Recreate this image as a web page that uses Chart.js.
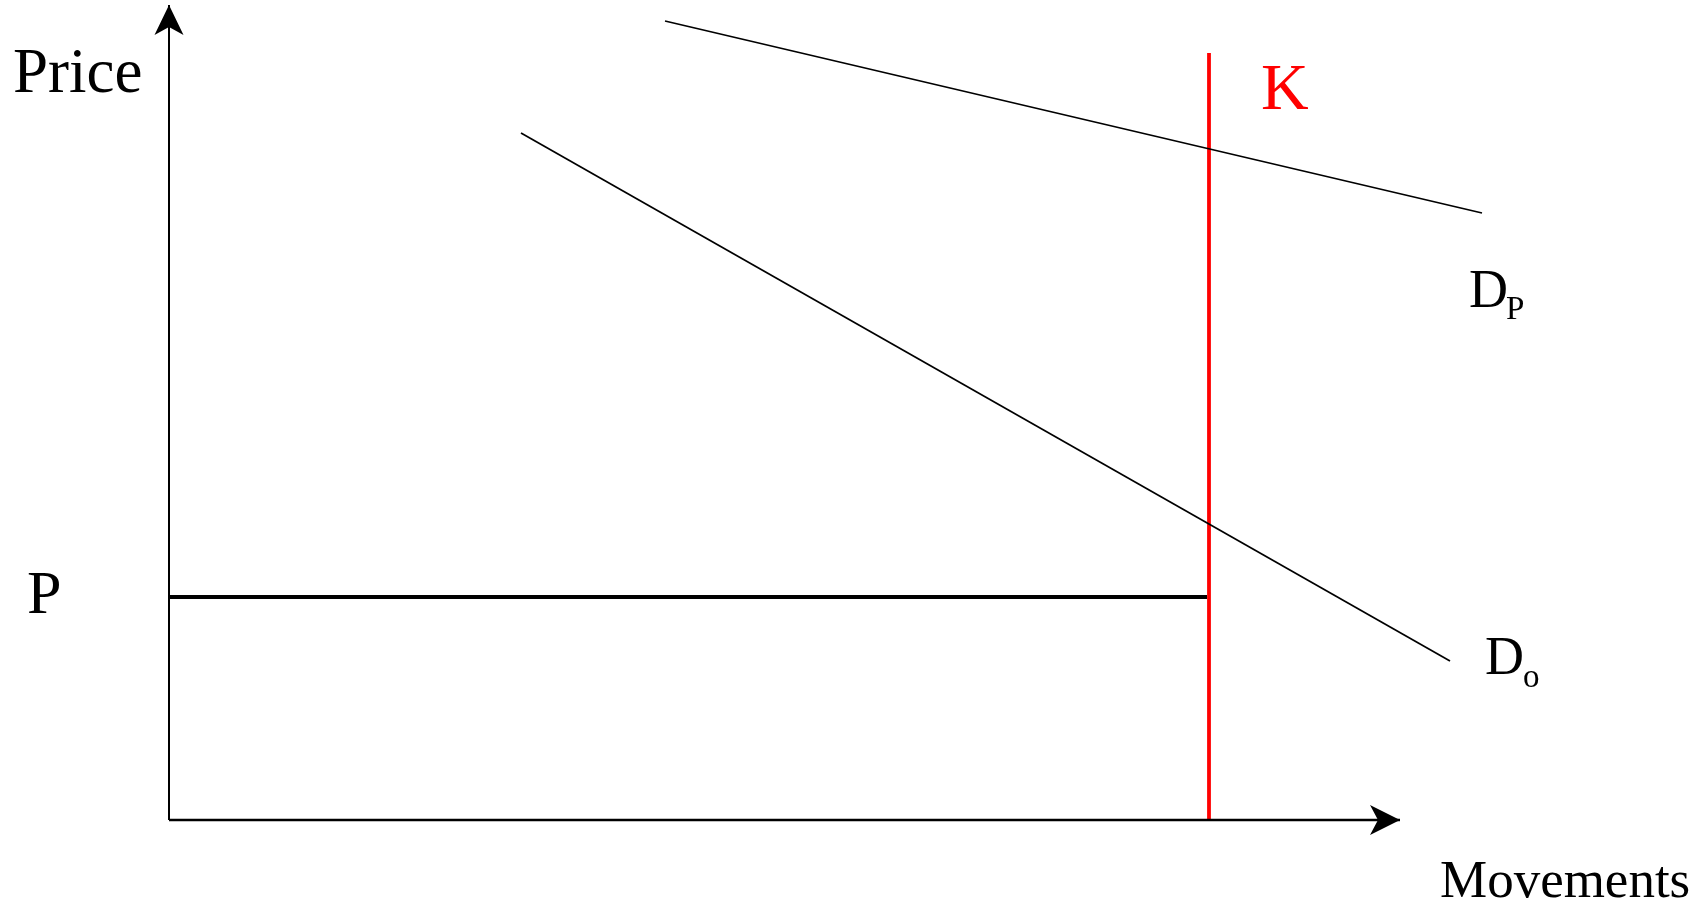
<!DOCTYPE html>
<html>
<head>
<meta charset="utf-8">
<script src="https://cdn.jsdelivr.net/npm/chart.js@4/dist/chart.umd.min.js"></script>
<style>
  html, body { margin: 0; padding: 0; background: #fff; }
  #wrap { width: 1708px; height: 905px; position: relative; }
</style>
</head>
<body>
<div id="wrap"><canvas id="chart"></canvas></div>
<script>
// ======================
// DATOS (unidades desde el origen de los ejes)
// ======================
const dpX = [496, 1313];      // curva de demanda D_P
const dpY = [799, 607];
const doX = [352, 1281];      // curva de demanda D_o
const doY = [687, 159];
const kX = [1040, 1040];      // capacidad K
const kY = [0, 767];
const pX = [0, 1038];         // precio P
const pY = [223, 223];
const xAxisX = [0, 1231];
const xAxisY = [0, 0];
const yAxisX = [0, 0];
const yAxisY = [0, 815];

// posiciones de las etiquetas (mismas unidades)
const labelTexts = ['Price', 'P', 'Movements'];
const labelX = [-156, -142, 1271];
const labelY = [728, 207, -77];

function pts(xs, ys) { return xs.map((x, i) => ({ x: x, y: ys[i] })) }

function serie(xs, ys, color, width) {
  return {
    data: pts(xs, ys),
    showLine: true,
    borderColor: color,
    borderWidth: width,
    pointRadius: 0,
    fill: false,
    borderCapStyle: 'butt'
  };
}

// ======================
// PLUGIN: flechas y textos
// ======================
const annotations = {
  id: 'annotations',
  afterDatasetsDraw(chart) {
    const ctx = chart.ctx;
    const sx = chart.scales.x, sy = chart.scales.y;
    const px = v => sx.getPixelForValue(v);
    const py = v => sy.getPixelForValue(v);

    ctx.save();
    ctx.fillStyle = '#000';
    // flecha eje Y
    let tx = px(yAxisX[1]), ty = py(yAxisY[1]);
    ctx.beginPath();
    ctx.moveTo(tx, ty);
    ctx.lineTo(tx + 14.5, ty + 30);
    ctx.lineTo(tx, ty + 22);
    ctx.lineTo(tx - 14.5, ty + 30);
    ctx.closePath();
    ctx.fill();
    // flecha eje X
    tx = px(xAxisX[1]); ty = py(xAxisY[1]);
    ctx.beginPath();
    ctx.moveTo(tx, ty);
    ctx.lineTo(tx - 30, ty - 15);
    ctx.lineTo(tx - 22, ty);
    ctx.lineTo(tx - 30, ty + 15);
    ctx.closePath();
    ctx.fill();

    ctx.textBaseline = 'alphabetic';
    ctx.textAlign = 'left';
    ctx.font = '63px "Liberation Serif", "Times New Roman", serif';
    ctx.fillText(labelTexts[0], px(labelX[0]), py(labelY[0]));
    ctx.font = '62px "Liberation Serif", "Times New Roman", serif';
    ctx.fillText(labelTexts[1], px(labelX[1]), py(labelY[1]));
    ctx.font = '53px "Liberation Serif", "Times New Roman", serif';
    ctx.fillText(labelTexts[2], px(labelX[2]), py(labelY[2]));

    // D_P y D_o
    ctx.font = '54px "Liberation Serif", "Times New Roman", serif';
    ctx.fillText('D', px(1300), py(513));
    ctx.fillText('D', px(1316), py(146));
    ctx.font = '33px "Liberation Serif", "Times New Roman", serif';
    ctx.fillText('P', px(1337), py(501));
    ctx.fillText('o', px(1354), py(133));

    // K
    ctx.fillStyle = '#ff0000';
    ctx.font = '66px "Liberation Serif", "Times New Roman", serif';
    ctx.fillText('K', px(1092), py(711));
    ctx.restore();
  }
};

// ======================
// GRÁFICO
// ======================
new Chart(document.getElementById('chart').getContext('2d'), {
  type: 'scatter',
  data: {
    datasets: [
      serie(yAxisX, yAxisY, '#000', 2),
      serie(xAxisX, xAxisY, '#000', 2.5),
      serie(dpX, dpY, '#000', 1.7),
      serie(doX, doY, '#000', 1.7),
      serie(pX, pY, '#000', 3.8),
      serie(kX, kY, '#ff0000', 3.8)
    ]
  },
  options: {
    responsive: true,
    maintainAspectRatio: false,
    animation: false,
    layout: { padding: 0 },
    plugins: {
      legend: { display: false },
      tooltip: { enabled: false }
    },
    scales: {
      x: { type: 'linear', min: -169, max: 1539, display: false },
      y: { type: 'linear', min: -85, max: 820, display: false }
    }
  },
  plugins: [annotations]
});
</script>
</body>
</html>
